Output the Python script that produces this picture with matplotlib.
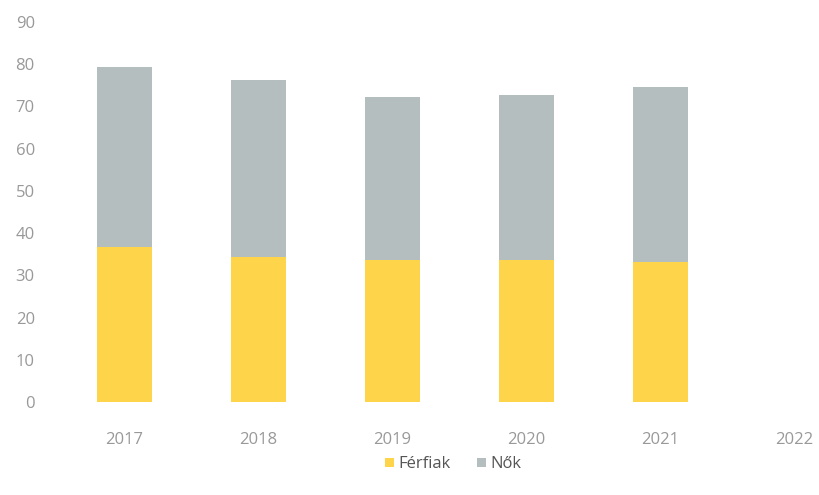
import matplotlib.pyplot as plt
import numpy as np

# Data for the plot
years = ["2017", "2018", "2019", "2020", "2021", "2022"]
ferfiak = [36.7, 34.4, 33.6, 33.6, 33.2, 0]
nok = [42.7, 41.9, 38.7, 39.1, 41.4, 0]

plt.rcParams['font.family'] = ['Open Sans', 'DejaVu Sans']

fig = plt.figure(figsize=(8.2, 4.95), dpi=100)
ax = fig.add_axes([0.0695, 0.188, 0.9305, 0.7676])

x = np.arange(len(years))
ax.bar(x, ferfiak, width=0.41, color='#FDD44A', label='Férfiak')
ax.bar(x, nok, width=0.41, bottom=ferfiak, color='#B4BEBF', label='Nők')

ax.set_ylim(0, 90)
ax.set_xlim(-0.5, 5.19)
ax.set_yticks(range(0, 91, 10))
ax.set_xticks(x)
ax.set_xticklabels(years)

for s in ax.spines.values():
    s.set_visible(False)
ax.tick_params(length=0, colors='#999999', labelsize=12)
ax.tick_params(axis='x', pad=22)
ax.tick_params(axis='y', pad=16)

leg = fig.legend(loc='center', bbox_to_anchor=(0.553, 0.062), ncol=2, frameon=False,
                 fontsize=12, handlelength=0.5, handleheight=0.5, columnspacing=1.6,
                 handletextpad=0.3)
for t in leg.get_texts():
    t.set_color('#555555')

fig.savefig('out.png', dpi=100)
